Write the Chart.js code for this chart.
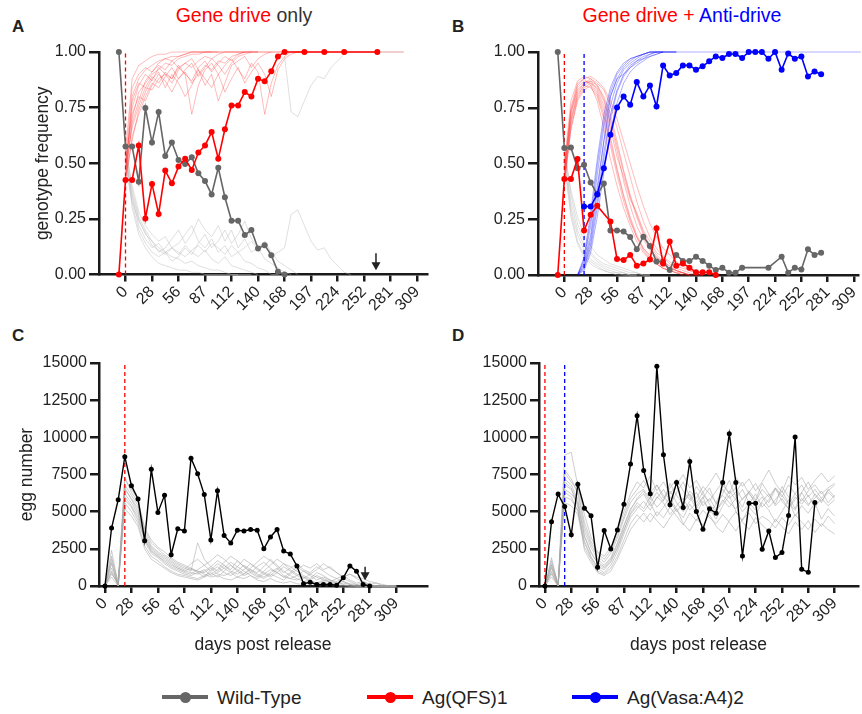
<!DOCTYPE html>
<html>
<head>
<meta charset="utf-8">
<script src="https://cdn.jsdelivr.net/npm/chart.js@4"></script>
<style>
  body { margin: 0; width: 862px; height: 714px; position: relative; overflow: hidden; background: #fff;
         font-family: "Liberation Sans", Arial, sans-serif; color: #222; }
  canvas { position: absolute; }
  .lt { position: absolute; font-weight: bold; font-size: 17px; line-height: 1; color: #222; }
  .ttl { position: absolute; top: 6px; width: 400px; text-align: center; font-size: 19.5px; line-height: 1; color: #333; white-space: nowrap; }
  .lg-line { position: absolute; height: 4px; width: 46px; top: 695px; }
  .lg-dot { position: absolute; width: 11px; height: 11px; border-radius: 50%; top: 691.5px; }
  .lg-txt { position: absolute; top: 688px; font-size: 19px; line-height: 1; color: #222; white-space: nowrap; }
</style>
</head>
<body>
<div class="lt" style="left:12px; top:18px">A</div>
<div class="lt" style="left:452px; top:18px">B</div>
<div class="lt" style="left:12px; top:327px">C</div>
<div class="lt" style="left:452px; top:327px">D</div>
<div class="ttl" style="left:44px"><span style="color:#ff0000">Gene drive</span> only</div>
<div class="ttl" style="left:482px"><span style="color:#ff0000">Gene drive +</span> <span style="color:#0000ff">Anti-drive</span></div>

<canvas id="cA" width="431" height="320" style="left:0; top:0"></canvas>
<canvas id="cB" width="431" height="320" style="left:431px; top:0"></canvas>
<canvas id="cC" width="431" height="340" style="left:0; top:320px"></canvas>
<canvas id="cD" width="431" height="340" style="left:431px; top:320px"></canvas>

<div class="lg-line" style="left:162px; background:#666666"></div>
<div class="lg-dot" style="left:179.5px; background:#666666"></div>
<div class="lg-txt" style="left:217px">Wild-Type</div>
<div class="lg-line" style="left:367px; background:#ff0000"></div>
<div class="lg-dot" style="left:384.5px; background:#ff0000"></div>
<div class="lg-txt" style="left:422px">Ag(QFS)1</div>
<div class="lg-line" style="left:572px; background:#0000ff"></div>
<div class="lg-dot" style="left:589.5px; background:#0000ff"></div>
<div class="lg-txt" style="left:627px">Ag(Vasa:A4)2</div>

<script>
// x positions are sampling rounds (weekly); every 4th one carries a day label
const dayLabels = ['0', '28', '56', '87', '112', '140', '168', '197', '224', '252', '281', '309'];

// ---- Panel A: gene drive only (genotype frequency) ----
const aWildFrom = -1;
const aWild = [1.00, 0.575, 0.575, 0.417, 0.748, 0.593, 0.73, 0.533, 0.593, 0.515, 0.497, 0.527, 0.455, 0.42,
  0.36, 0.48, 0.347, 0.242, 0.242, 0.177, 0.20, 0.117, 0.132, 0.087, 0.012, 0];
const aDriveFrom = -1;
const aDrive = [0, 0.425, 0.425, 0.58, 0.252, 0.407, 0.272, 0.467, 0.41, 0.485, 0.52, 0.47, 0.548, 0.58,
  0.64, 0.52, 0.653, 0.76, 0.76, 0.82, 0.80, 0.88, 0.868, 0.913, 0.98, 1.0,
  null, null, 1.0, null, null, 1.0, null, null, 1.0, null, null, null, null, 1.0];
// simulated runs (start at round 0)
const aDriveSims = [
  [0.45, 0.80, 0.88, 0.92, 0.94, 0.96, 0.97, 0.98, 0.98, 0.99, 1, 1, 1, 1, 1, 1, 1, 1, 1, 1, 1, 1, 1, 1, 1, 1, 1, 1, 1, 1, 1, 1, 1, 1, 1, 1, 1, 1, 1, 1, 1, 1, 1],
  [0.42, 0.70, 0.82, 0.86, 0.90, 0.92, 0.95, 0.94, 0.97, 0.98, 0.99, 0.99, 1, 1, 1, 1, 1, 1, 1, 1],
  [0.48, 0.66, 0.76, 0.84, 0.83, 0.88, 0.90, 0.86, 0.92, 0.95, 0.93, 0.96, 0.98, 0.97, 0.99, 1, 1, 1, 1],
  [0.40, 0.62, 0.72, 0.80, 0.86, 0.84, 0.89, 0.93, 0.88, 0.91, 0.86, 0.90, 0.94, 0.92, 0.96, 0.95, 0.98, 0.99, 1, 1, 1],
  [0.50, 0.72, 0.80, 0.78, 0.85, 0.90, 0.87, 0.82, 0.88, 0.92, 0.95, 0.89, 0.93, 0.97, 0.94, 0.90, 0.95, 0.98, 0.99, 1, 1, 1, 1],
  [0.44, 0.60, 0.74, 0.82, 0.88, 0.91, 0.84, 0.90, 0.86, 0.80, 0.85, 0.92, 0.88, 0.84, 0.90, 0.82, 0.88, 0.93, 0.86, 0.91, 0.95, 0.90, 0.80, 0.92, 0.97, 0.99, 1, 1],
  [0.46, 0.75, 0.85, 0.90, 0.87, 0.93, 0.90, 0.88, 0.93, 0.95, 0.97, 0.92, 0.85, 0.90, 0.78, 0.86, 0.94, 0.96, 0.98, 0.93, 0.97, 0.99, 1, 1, 1],
  [0.43, 0.68, 0.78, 0.87, 0.91, 0.94, 0.92, 0.96, 0.93, 0.90, 0.72, 0.85, 0.92, 0.95, 0.90, 0.94, 0.97, 0.92, 0.88, 0.95, 0.91, 0.72, 0.86, 0.94, 0.98, 1, 1, 1],
  [0.55, 0.88, 0.94, 0.96, 0.98, 0.99, 0.99, 1, 1, 1, 1, 1, 1, 1, 1],
  [0.50, 0.84, 0.90, 0.93, 0.91, 0.95, 0.97, 0.96, 0.98, 0.99, 1, 1, 1, 1],
  [0.47, 0.78, 0.86, 0.84, 0.89, 0.86, 0.91, 0.88, 0.94, 0.90, 0.87, 0.93, 0.96, 0.91, 0.95, 0.98, 0.96, 0.99, 1, 1, 1]
];
const aWildSims = [
  [0.55, 0.30, 0.18, 0.12, 0.08, 0.05, 0.04, 0.03, 0.02, 0.02, 0.01, 0.01, 0, 0, 0, 0, 0, 0, 0, 0],
  [0.58, 0.38, 0.26, 0.20, 0.15, 0.12, 0.10, 0.08, 0.07, 0.05, 0.06, 0.04, 0.03, 0.02, 0.02, 0.01, 0, 0],
  [0.52, 0.35, 0.22, 0.16, 0.12, 0.14, 0.10, 0.12, 0.09, 0.13, 0.10, 0.08, 0.11, 0.07, 0.05, 0.08, 0.04, 0.03, 0.02, 0.01, 0],
  [0.57, 0.40, 0.28, 0.22, 0.18, 0.15, 0.17, 0.12, 0.14, 0.18, 0.22, 0.15, 0.12, 0.16, 0.10, 0.13, 0.08, 0.10, 0.06, 0.05, 0.03, 0.02, 0, 0],
  [0.54, 0.36, 0.25, 0.18, 0.15, 0.10, 0.12, 0.16, 0.20, 0.14, 0.18, 0.25, 0.20, 0.17, 0.22, 0.15, 0.20, 0.12, 0.16, 0.10, 0.12, 0.07, 0.05, 0.03, 0.01, 0],
  [0.50, 0.32, 0.20, 0.14, 0.10, 0.08, 0.10, 0.06, 0.08, 0.12, 0.09, 0.14, 0.18, 0.12, 0.15, 0.20, 0.14, 0.18, 0.24, 0.16, 0.12, 0.15, 0.10, 0.06, 0.04, 0.02, 0],
  [0.56, 0.33, 0.24, 0.19, 0.13, 0.11, 0.09, 0.12, 0.10, 0.08, 0.11, 0.13, 0.10, 0.14, 0.12, 0.09, 0.13, 0.10, 0.12, 0.15, 0.11, 0.13, 0.08, 0.10, 0.12, 0.27, 0.29, 0.22, 0.15, 0.11, 0.12, 0.07, 0.04, 0.01, 0]
];
const aWildLateFrom = 24;
const aWildLate = [0.98, 0.73, 0.71, 0.78, 0.85, 0.89, 0.88, 0.93, 0.96, 0.99, 1, 1, 1, 1, 1, 1, 1, 1, 1];
const aArrow = { at: 37.8, from: 0.096, to: 0.019 };

// ---- Panel B: gene drive + anti-drive (genotype frequency) ----
const bWildFrom = -1;
const bWild = [1.0, 0.569, 0.572, 0.479, 0.494, 0.415, 0.36, 0.41, 0.20, 0.20, 0.195, 0.17, 0.115, 0.172, 0.13,
  0.06, 0.06, 0.022, 0.09, 0.063, 0.063, 0.082, 0.063, 0.042, 0.022, 0.033, 0.01, 0.01, 0.033,
  null, null, null, 0.033, null, 0.082, 0.01, 0.033, 0.025, 0.115, 0.09, 0.10];
const bDriveFrom = -1;
const bDrive = [0, 0.43, 0.43, 0.52, 0.20, 0.27, 0.31, null, 0.24, 0.072, 0.067, 0.09, 0.042, 0.052, 0.07,
  0.21, 0.052, 0.15, 0.042, 0.052, 0.033, 0.012, 0.012, 0.012, 0];
const bAntiFrom = 3;
const bAnti = [0.307, 0.307, 0.362, 0.479, 0.629, 0.751, 0.80, 0.763, 0.865, 0.80, 0.85, 0.756, 0.94, 0.895,
  0.906, 0.94, 0.94, 0.92, 0.936, 0.958, 0.98, 0.973, 0.991, 0.991, 0.973, 1.0, 1.0, 1.0, 0.97, 1.0, 0.92,
  0.993, 0.97, 0.98, 0.89, 0.913, 0.90];
const bDriveSims = [
  [0.45, 0.72, 0.84, 0.87, 0.86, 0.82, 0.74, 0.62, 0.48, 0.36, 0.26, 0.18, 0.12, 0.08, 0.05, 0.03, 0.02, 0.01, 0.01, 0, 0, 0],
  [0.42, 0.68, 0.80, 0.85, 0.87, 0.85, 0.80, 0.72, 0.60, 0.47, 0.36, 0.27, 0.19, 0.13, 0.09, 0.06, 0.04, 0.02, 0.01, 0, 0, 0],
  [0.48, 0.75, 0.86, 0.88, 0.85, 0.78, 0.66, 0.52, 0.40, 0.30, 0.22, 0.15, 0.10, 0.07, 0.05, 0.03, 0.02, 0.01, 0, 0],
  [0.44, 0.70, 0.82, 0.86, 0.88, 0.86, 0.83, 0.76, 0.66, 0.55, 0.44, 0.33, 0.24, 0.17, 0.12, 0.08, 0.05, 0.03, 0.02, 0.01, 0, 0],
  [0.40, 0.66, 0.79, 0.84, 0.86, 0.84, 0.78, 0.68, 0.56, 0.42, 0.31, 0.22, 0.16, 0.11, 0.08, 0.06, 0.04, 0.02, 0.01, 0],
  [0.46, 0.73, 0.83, 0.86, 0.87, 0.83, 0.76, 0.66, 0.53, 0.44, 0.34, 0.28, 0.20, 0.15, 0.10, 0.08, 0.06, 0.04, 0.03, 0.02, 0.01, 0],
  [0.43, 0.69, 0.81, 0.85, 0.84, 0.80, 0.70, 0.58, 0.45, 0.33, 0.24, 0.17, 0.12, 0.09, 0.06, 0.04, 0.03, 0.02, 0.01, 0],
  [0.47, 0.74, 0.85, 0.88, 0.89, 0.87, 0.84, 0.78, 0.70, 0.60, 0.50, 0.40, 0.31, 0.23, 0.17, 0.12, 0.09, 0.06, 0.04, 0.02, 0.01, 0],
  [0.50, 0.78, 0.87, 0.89, 0.88, 0.85, 0.79, 0.70, 0.58, 0.46, 0.35, 0.26, 0.18, 0.12, 0.08, 0.05, 0.03, 0.02, 0.01, 0],
  [0.41, 0.65, 0.78, 0.83, 0.85, 0.81, 0.72, 0.60, 0.47, 0.35, 0.25, 0.17, 0.11, 0.07, 0.05, 0.03, 0.02, 0.01, 0]
];
const bAntiSimsFrom = 2;
const bAntiSims = [
  [0, 0.06, 0.22, 0.45, 0.66, 0.80, 0.88, 0.93, 0.96, 0.98, 0.99, 1, 1, 1, 1, 1, 1, 1, 1, 1, 1, 1, 1, 1, 1, 1, 1, 1, 1, 1, 1, 1, 1, 1, 1, 1, 1, 1, 1, 1, 1, 1, 1, 1],
  [0, 0.03, 0.14, 0.33, 0.55, 0.72, 0.83, 0.90, 0.94, 0.96, 0.98, 0.99, 1, 1, 1, 1],
  [0, 0.08, 0.28, 0.52, 0.72, 0.84, 0.91, 0.95, 0.97, 0.98, 0.99, 1, 1, 1],
  [0, 0.02, 0.10, 0.26, 0.46, 0.64, 0.77, 0.86, 0.91, 0.94, 0.96, 0.98, 0.99, 1, 1, 1],
  [0, 0.05, 0.18, 0.40, 0.60, 0.76, 0.86, 0.92, 0.95, 0.97, 0.99, 1, 1, 1],
  [0, 0.04, 0.16, 0.37, 0.60, 0.80, 0.88, 0.90, 0.93, 0.95, 0.97, 0.98, 0.99, 1, 1, 1],
  [0, 0.07, 0.25, 0.49, 0.69, 0.82, 0.90, 0.94, 0.97, 0.98, 0.99, 1, 1],
  [0, 0.03, 0.12, 0.30, 0.52, 0.70, 0.82, 0.89, 0.93, 0.96, 0.97, 0.99, 1, 1]
];
const bWildSims = [
  [0.55, 0.30, 0.18, 0.11, 0.07, 0.05, 0.03, 0.02, 0.01, 0.01, 0, 0, 0, 0],
  [0.57, 0.36, 0.23, 0.15, 0.10, 0.07, 0.05, 0.04, 0.03, 0.02, 0.01, 0.01, 0, 0],
  [0.52, 0.28, 0.15, 0.09, 0.06, 0.04, 0.02, 0.01, 0.01, 0, 0],
  [0.56, 0.38, 0.26, 0.18, 0.13, 0.09, 0.07, 0.05, 0.04, 0.03, 0.02, 0.01, 0, 0],
  [0.54, 0.33, 0.20, 0.13, 0.09, 0.06, 0.04, 0.03, 0.02, 0.01, 0, 0],
  [0.50, 0.26, 0.14, 0.08, 0.05, 0.03, 0.02, 0.01, 0, 0, 0, 0]
];

// ---- Panel C: gene drive only (egg number) ----
const cEggsFrom = 0;
const cEggs = [0, 3900, 5800, 8700, 6750, 5850, 3050, 7850, 4950, 6100, 2100, 3850, 3700, 8600, 7550, 6150,
  3100, 6400, 3400, 2900, 3750, 3700, 3800, 3750, 2500, 3300, 3800, 2350, 2150, 1350, 150, 250, 100, 100,
  100, 50, 550, 1350, 1000, 100, 0];
const cEggSims = [
  [0, 2400, 100, 7200, 6500, 5800, 3800, 2900, 2500, 2100, 1800, 1500, 1300, 1100, 1000, 900, 1200, 800, 700, 900, 600, 500, 700, 400, 300, 500, 300, 200, 300, 150, 100, 200, 100, 50, 100, 0, 50, 0, 0, 0, 0, 0, 0, 0, 0],
  [0, 1500, 0, 6500, 5900, 5200, 3400, 2600, 2200, 1900, 1600, 1300, 1100, 1500, 1800, 1400, 1000, 1300, 900, 700, 1000, 1400, 1100, 800, 600, 900, 1200, 700, 500, 400, 600, 300, 200, 400, 250, 100, 200, 100, 0, 0, 0, 0, 0, 0, 0],
  [0, 800, 200, 6000, 5400, 4600, 3000, 2200, 1900, 1500, 1200, 1000, 800, 700, 900, 600, 1100, 1500, 1200, 900, 1300, 1800, 1500, 1100, 800, 600, 900, 1300, 1000, 700, 500, 800, 600, 400, 300, 500, 300, 150, 100, 0, 0, 0, 0, 0, 0],
  [0, 2000, 0, 5600, 5000, 4200, 2700, 2000, 1700, 1300, 1000, 800, 700, 600, 500, 700, 900, 600, 1000, 1400, 1100, 800, 1200, 1600, 2000, 1700, 1300, 900, 1200, 1500, 1100, 900, 1300, 1000, 700, 500, 700, 400, 200, 300, 100, 0, 0, 0, 0],
  [0, 1200, 100, 6800, 6100, 5400, 3600, 2700, 2300, 2000, 1700, 1400, 1200, 1000, 2900, 1800, 1300, 1000, 1400, 1100, 1700, 1300, 900, 600, 1000, 1400, 1800, 1500, 1100, 800, 600, 400, 700, 500, 300, 200, 100, 0, 0, 0, 0, 0, 0, 0, 0],
  [0, 600, 0, 5200, 4700, 4000, 2500, 1800, 1500, 1200, 900, 700, 600, 500, 400, 600, 800, 1100, 1600, 2000, 1700, 1300, 1000, 700, 500, 800, 600, 400, 800, 1100, 1400, 1200, 1500, 1100, 1300, 900, 600, 800, 500, 300, 100, 200, 0, 0, 0],
  [0, 1800, 300, 7300, 6300, 5600, 3900, 3100, 2600, 2300, 1900, 1600, 1400, 1200, 1000, 800, 600, 700, 500, 400, 600, 800, 1100, 900, 1300, 1800, 1400, 1000, 700, 500, 300, 400, 200, 300, 100, 0, 0, 0, 0, 0, 0, 0, 0, 0, 0],
  [0, 1000, 0, 5800, 5300, 4400, 3200, 2300, 2000, 1600, 1300, 1100, 900, 800, 1100, 1400, 1700, 2100, 1800, 1400, 1000, 700, 900, 1300, 1600, 1200, 900, 600, 500, 700, 1000, 800, 1100, 1500, 1200, 900, 600, 800, 600, 500, 300, 200, 100, 0, 0],
  [0, 1600, 0, 6200, 5600, 4800, 3300, 2500, 2100, 1800, 1500, 1200, 1000, 900, 800, 1000, 1300, 1700, 1400, 1000, 800, 1100, 1500, 1200, 900, 700, 1100, 1500, 1300, 1000, 700, 500, 900, 700, 400, 300, 500, 300, 100, 200, 0, 0, 0, 0, 0],
  [0, 900, 100, 6600, 5800, 5000, 3100, 2400, 2000, 1700, 1400, 1200, 1000, 1200, 900, 1100, 700, 900, 1200, 1600, 1300, 1000, 700, 500, 800, 1100, 900, 600, 900, 1300, 1000, 700, 400, 600, 400, 200, 300, 100, 0, 0, 0, 0, 0, 0, 0]
];
const cArrow = { at: 39.3, from: 1300, to: 380 };

// ---- Panel D: gene drive + anti-drive (egg number) ----
const dEggsFrom = 0;
const dEggs = [0, 4330, 6180, 5340, 3440, 6850, 5230, 4720, 1260, 3730, 2490, 3770, 5500, 8200, 11450, 7770,
  6200, 14780, 8830, 5460, 6960, 5280, 8380, 5010, 3820, 5190, 4900, 6960, 10240, 6960, 2020, 5570, 5570,
  2470, 3700, 1910, 2250, 4740, 10020, 1120, 920, 5610];
const dEggSims = [
  [0, 1900, 0, 7800, 7200, 6200, 4000, 2800, 2000, 1600, 2200, 3200, 4500, 5600, 6200, 6500, 5800, 6800, 6100, 5400, 6300, 7000, 6000, 5200, 5900, 6600, 5500, 6200, 7100, 6000, 5300, 6400, 5800, 6900, 6200, 5500, 6700, 6000, 5200, 6300, 7000, 6100, 5600, 6500, 6000],
  [0, 1200, 100, 6500, 6200, 5600, 3400, 2300, 1500, 1200, 1700, 2600, 3800, 4800, 5400, 5000, 5600, 4700, 5300, 6000, 5100, 4600, 5500, 4900, 5700, 5200, 4500, 5400, 6100, 5000, 4400, 5300, 4800, 5600, 5100, 4300, 5000, 5800, 4700, 5400, 4900, 5600, 4500, 5200, 4700],
  [0, 800, 0, 5600, 5400, 4800, 2600, 1800, 1000, 800, 1200, 2000, 3100, 4200, 4800, 4300, 4900, 4400, 3900, 4600, 5200, 4200, 3700, 4500, 4100, 4800, 4000, 3600, 4400, 5000, 4300, 3800, 4600, 4100, 3700, 4500, 4000, 3500, 4300, 3800, 4400, 3600, 4200, 3800, 3500],
  [0, 1500, 200, 8800, 9000, 6700, 4800, 3300, 2300, 2000, 2600, 3700, 5000, 6200, 7000, 6600, 7400, 6400, 7000, 6200, 6800, 7500, 6600, 7100, 6300, 6900, 7600, 6800, 6200, 7300, 6700, 7200, 6400, 7000, 7800, 6900, 6300, 7400, 6800, 7300, 6500, 7100, 7600, 7000, 7400],
  [0, 1000, 0, 6000, 5800, 5100, 3000, 2000, 1200, 900, 1400, 2300, 3500, 4600, 5200, 5700, 5100, 6000, 5600, 4800, 5400, 5900, 5100, 5600, 6300, 5500, 5000, 5800, 5300, 5900, 6500, 5600, 5100, 5700, 6200, 5400, 5900, 5200, 6000, 5500, 6100, 5300, 5900, 5400, 5800],
  [0, 1700, 100, 7200, 6800, 5800, 3700, 2600, 1800, 1400, 1900, 2900, 4100, 5200, 5800, 6200, 5400, 5900, 6500, 5700, 5000, 5600, 6200, 5400, 6000, 4900, 5500, 6100, 5600, 5200, 5900, 6300, 5500, 6000, 5300, 5800, 6400, 5600, 5100, 5900, 5400, 6200, 5700, 6300, 5900],
  [0, 600, 0, 6800, 6500, 5300, 2400, 1600, 900, 700, 1000, 1800, 2800, 3800, 4400, 4900, 4300, 5000, 4600, 5300, 4700, 4100, 4900, 4400, 5100, 4600, 4200, 4800, 4300, 3700, 4500, 4900, 4200, 4700, 4400, 3900, 4600, 4100, 4800, 4300, 3800, 4500, 4000, 4700, 4200],
  [0, 1300, 0, 7600, 7000, 6400, 4300, 3000, 2200, 1800, 2400, 3400, 4700, 5900, 6500, 7100, 6300, 6800, 5900, 6600, 7200, 6400, 5800, 6700, 6100, 5700, 6400, 7000, 6200, 6600, 5800, 6300, 6900, 6100, 5600, 6500, 6000, 6800, 6200, 5700, 6400, 6800, 6200, 6600, 6900],
  [0, 900, 0, 6300, 6000, 5000, 2900, 1900, 1300, 1100, 1600, 2500, 3700, 4900, 5600, 5200, 6000, 5300, 5800, 6400, 5600, 5000, 5700, 6300, 5400, 5900, 5100, 5600, 6400, 5800, 5000, 5500, 6200, 5300, 5800, 6600, 5700, 5200, 5800, 6300, 5500, 5900, 6400, 5600, 6100],
  [0, 1400, 0, 7000, 6600, 5500, 3300, 2200, 1600, 1300, 1800, 2800, 4000, 5100, 5900, 6400, 5600, 6300, 5700, 6900, 6100, 5500, 6400, 5900, 6700, 6200, 5600, 6500, 5900, 6300, 7000, 6200, 5700, 6500, 6000, 6600, 6100, 5500, 6200, 6800, 6000, 6500, 5900, 6400, 6800]
];

// release rounds marked by dashed lines
const releaseDrive = { A: 0, B: 0, C: 3, D: 0 };
const releaseAnti = { B: 3, D: 3 };

const RED = '#ff0000', BLUE = '#0000ff', WT = '#666666', EGG = '#000000';
const RED_SIM = 'rgba(255,30,30,0.3)', BLUE_SIM = 'rgba(20,20,255,0.35)';
const GREY_SIM_LIGHT = 'rgba(185,185,185,0.45)', GREY_SIM = 'rgba(165,165,165,0.55)';

Chart.defaults.font.family = '"Liberation Sans", Arial, sans-serif';
Chart.defaults.color = '#222';

const P = (vals, from) => vals.map((v, i) => ({ x: from + i, y: v })).filter(p => p.y !== null);

function mainLine(vals, from, color, r, w) {
  return { data: P(vals, from), borderColor: color, backgroundColor: color, pointBackgroundColor: color,
    borderWidth: w, pointRadius: r, pointBorderWidth: 0, clip: false, order: 0 };
}
function simLines(list, from, color) {
  return list.map(v => ({ data: P(v, from), borderColor: color, borderWidth: 1, pointRadius: 0, clip: false, order: 2 }));
}
function dash(at, top, color) {
  return { data: [{ x: at, y: 0 }, { x: at, y: top }], borderColor: color, borderWidth: 1.3,
    borderDash: [4, 3], pointRadius: 0, clip: false, order: 1 };
}

const arrowPlugin = {
  id: 'arrowMark',
  afterDatasetsDraw(chart, args, opts) {
    if (opts.at === undefined) return;
    const { ctx, scales: { x, y } } = chart;
    const px = x.getPixelForValue(opts.at);
    const top = y.getPixelForValue(opts.from);
    const tip = y.getPixelForValue(opts.to);
    ctx.save();
    ctx.strokeStyle = ctx.fillStyle = '#222';
    ctx.lineWidth = 1.5;
    ctx.beginPath(); ctx.moveTo(px, top); ctx.lineTo(px, tip - 6); ctx.stroke();
    ctx.beginPath(); ctx.moveTo(px - 4.5, tip - 8); ctx.lineTo(px + 4.5, tip - 8); ctx.lineTo(px, tip); ctx.closePath(); ctx.fill();
    ctx.restore();
  }
};

function panel(id, o) {
  const axisColor = '#1a1a1a';
  return new Chart(document.getElementById(id), {
    type: 'line',
    data: { datasets: o.datasets },
    plugins: [arrowPlugin],
    options: {
      responsive: false,
      animation: false,
      events: [],
      layout: { padding: { top: o.top, right: o.right, left: 0, bottom: 0 } },
      elements: { line: { tension: 0 } },
      plugins: { legend: { display: false }, tooltip: { enabled: false }, arrowMark: o.arrow || {} },
      scales: {
        x: {
          type: 'linear', min: o.xMin, max: o.xMax,
          afterBuildTicks: s => { s.ticks = dayLabels.map((_, i) => ({ value: i * 4 })); },
          afterFit: s => { s.height = o.xH; s.paddingLeft = 0; s.paddingRight = 0; },
          ticks: { autoSkip: false, minRotation: 45, maxRotation: 45, padding: 1, color: '#222',
            font: { size: 16 }, callback: (v, i) => dayLabels[i] },
          grid: { drawOnChartArea: false, tickLength: 7, lineWidth: 2.5, color: axisColor },
          border: { width: 2.5, color: axisColor },
          title: o.xTitle
            ? { display: true, text: o.xTitle, font: { size: 17.5 }, color: '#222', padding: { top: 0, bottom: 4.5 } }
            : { display: false }
        },
        y: {
          min: 0, max: o.yMax,
          afterFit: s => { s.width = o.yW; s.paddingTop = 0; s.paddingBottom = 0; },
          ticks: { stepSize: o.yStep, padding: 3, color: '#222', font: { size: 16 }, callback: o.yFmt },
          grid: { drawOnChartArea: false, tickLength: o.yTick, lineWidth: 2.5, color: axisColor },
          border: { width: 2.5, color: axisColor },
          title: o.yTitle
            ? { display: true, text: o.yTitle, font: { size: 17.5 }, color: '#222', padding: { top: o.yTitlePad, bottom: 0 } }
            : { display: false }
        }
      }
    }
  });
}

const freqFmt = v => v.toFixed(2);
const eggFmt = v => String(v);

panel('cA', {
  top: 52, right: 2, xH: 45.5, yW: 99, xMin: -4, xMax: 45.5,
  yMax: 1, yStep: 0.25, yFmt: freqFmt, yTick: 10, yTitle: 'genotype frequency', yTitlePad: 33,
  arrow: aArrow,
  datasets: [
    mainLine(aDrive, aDriveFrom, RED, 3, 1.6),
    mainLine(aWild, aWildFrom, WT, 3, 1.6),
    dash(releaseDrive.A, 1, RED),
    ...simLines(aDriveSims, 0, RED_SIM),
    ...simLines(aWildSims, 0, GREY_SIM_LIGHT),
    ...simLines([aWildLate], aWildLateFrom, GREY_SIM_LIGHT)
  ]
});

panel('cB', {
  top: 52, right: 0, xH: 45, yW: 107, xMin: -4, xMax: 44.6,
  yMax: 1, yStep: 0.25, yFmt: freqFmt, yTick: 10,
  datasets: [
    mainLine(bAnti, bAntiFrom, BLUE, 3, 1.6),
    mainLine(bDrive, bDriveFrom, RED, 3, 1.6),
    mainLine(bWild, bWildFrom, WT, 3, 1.6),
    dash(releaseDrive.B, 1, RED),
    dash(releaseAnti.B, 1, BLUE),
    ...simLines(bAntiSims, bAntiSimsFrom, BLUE_SIM),
    ...simLines(bDriveSims, 0, RED_SIM),
    ...simLines(bWildSims, 0, GREY_SIM_LIGHT)
  ]
});

panel('cC', {
  top: 43, right: 2, xH: 74, yW: 99, xMin: -0.9, xMax: 48.65,
  yMax: 15000, yStep: 2500, yFmt: eggFmt, yTick: 9, yTitle: 'egg number', yTitlePad: 16.5,
  xTitle: 'days post release', arrow: cArrow,
  datasets: [
    mainLine(cEggs, cEggsFrom, EGG, 2.5, 1.4),
    dash(releaseDrive.C, 15000, RED),
    ...simLines(cEggSims, 0, GREY_SIM)
  ]
});

panel('cD', {
  top: 43, right: 0, xH: 74, yW: 108, xMin: -0.9, xMax: 47.55,
  yMax: 15000, yStep: 2500, yFmt: eggFmt, yTick: 9,
  xTitle: 'days post release',
  datasets: [
    mainLine(dEggs, dEggsFrom, EGG, 2.5, 1.4),
    dash(releaseDrive.D, 15000, RED),
    dash(releaseAnti.D, 15000, BLUE),
    ...simLines(dEggSims, 0, GREY_SIM)
  ]
});
</script>
</body>
</html>
